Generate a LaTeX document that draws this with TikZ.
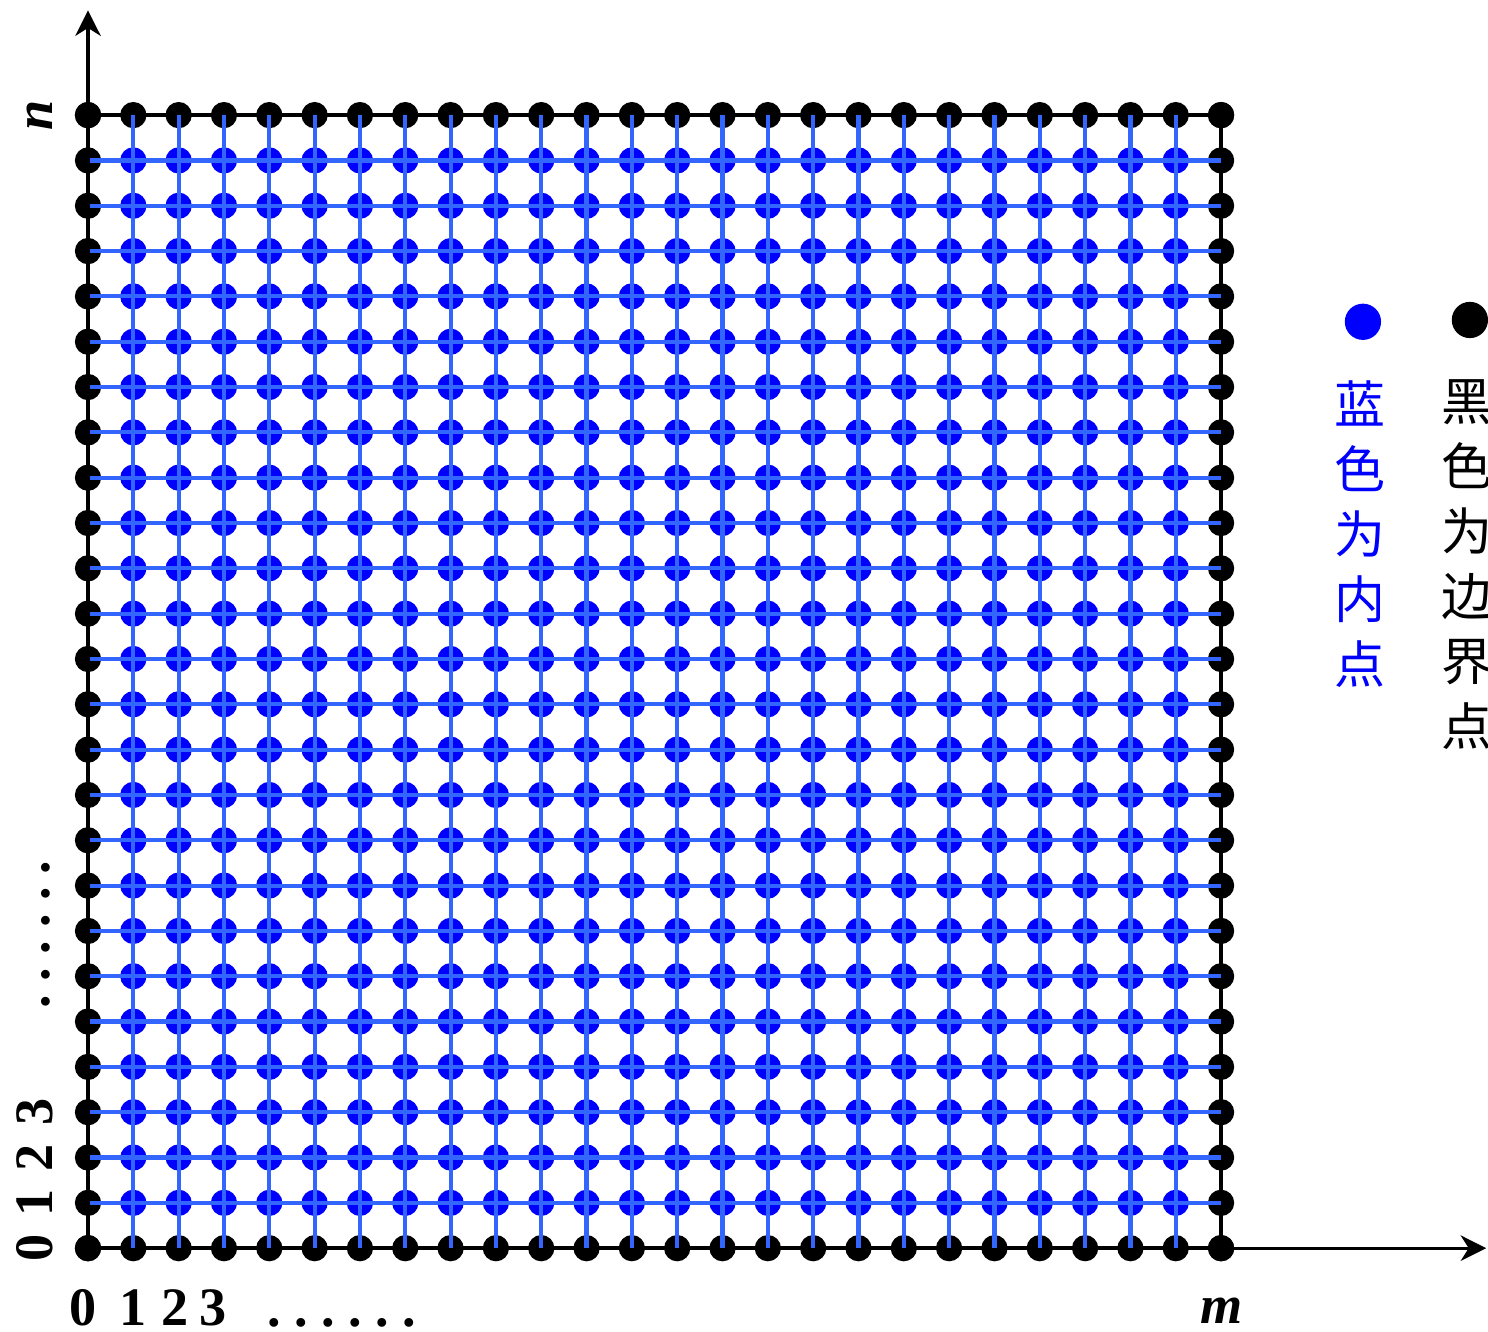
\documentclass[tikz,border=0pt]{standalone}
\usepackage{fontspec}
\setmainfont{Liberation Serif}
\newfontfamily\cjk{Noto Sans CJK SC}
\usetikzlibrary{positioning, arrows.meta}
\definecolor{gridblue}{HTML}{3366FF}
\definecolor{dotblue}{HTML}{0000FF}

\begin{document}
\begin{tikzpicture}[x=0.5cm, y=0.5cm,
    bdot/.style={fill=black},
    idot/.style={fill=dotblue},
    edge/.style={line width=1.3pt, black},
    inner/.style={line width=1.3pt, gridblue},
    axis/.style={line width=1pt, -{Stealth[length=8pt, width=8pt, inset=2.5pt]}},
    lbl/.style={font=\fontsize{17}{20}\selectfont\bfseries},
    legdot/.style={circle, minimum size=0.4cm},
    cjkcol/.style={font=\cjk\fontsize{16}{20.4}\selectfont, align=center},
    every node/.style={inner sep=0pt}
]
\useasboundingbox (-1.942,-1.83) rectangle (30.89,27.54);

\coordinate (o) at (0,0);
\coordinate (xend) at (30.85,0);
\coordinate (yend) at (0,27.31);

% Axes
\draw[axis] (o) -- (xend);
\draw[axis] (o) -- (yend);

% Boundary
\draw[edge] (o) rectangle (25,25);
\foreach \i in {0,...,25} {
  \fill[bdot] (\i,0) circle (0.29);
  \fill[bdot] (\i,25) circle (0.29);
  \fill[bdot] (0,\i) circle (0.29);
  \fill[bdot] (25,\i) circle (0.29);
}

% Interior points
\foreach \i in {1,...,24}
  \foreach \j in {1,...,24}
    \fill[idot] (\i,\j) circle (0.29);

% Grid lines
\foreach \k in {1,...,24} {
  \draw[inner] (0.04,\k) -- (25,\k);
  \draw[inner] (\k,0) -- (\k,25);
}

% Labels
\node[lbl, rotate=90, anchor=base] (nlab) at (-0.79,25) {\itshape n};
\foreach \k in {0,...,3}
  \node[lbl, rotate=90, anchor=base] (ly\k) at (-0.79,\k) {\k};
\node[lbl, rotate=90, anchor=base] (ydots) at (-0.84,6.92)
  {.\hspace{4.2pt}.\hspace{4.2pt}.\hspace{4.2pt}.\hspace{4.2pt}.\hspace{4.2pt}.};
\foreach \k/\x in {0/-0.11, 1/1.0, 2/1.92, 3/2.76}
  \node[lbl, anchor=base] (lx\k) at (\x,-1.70) {\k};
\node[lbl, anchor=base] (xdots) at (5.6,-1.72)
  {.\hspace{4.2pt}.\hspace{4.2pt}.\hspace{4.2pt}.\hspace{4.2pt}.\hspace{4.2pt}.};
\node[lbl, anchor=base] (mlab) at (25.02,-1.66) {\itshape m};

% Legend
\node[legdot, fill=dotblue] (bleg) at (28.13,20.44) {};
\node[legdot, fill=black] (kleg) at (30.49,20.48) {};
\node[cjkcol, text=dotblue] (btext) at (28.07,15.76) {蓝\\色\\为\\内\\点};
\node[cjkcol] (ktext) at (30.43,15.08) {黑\\色\\为\\边\\界\\点};

\end{tikzpicture}
\end{document}
